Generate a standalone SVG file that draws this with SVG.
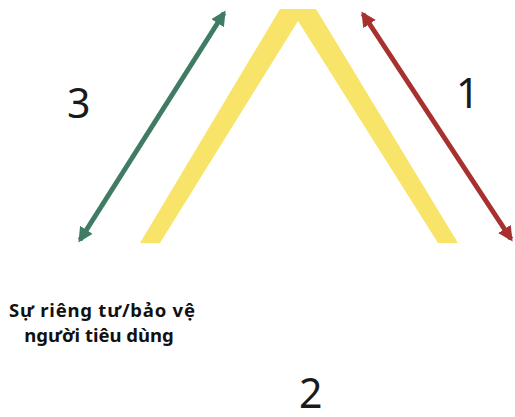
<svg xmlns="http://www.w3.org/2000/svg" width="515" height="417" viewBox="0 0 515 417">
<style>
.num{font-family:"Noto Sans","Open Sans",sans-serif;font-size:41px;fill:#1a1a1a}
.lbl{font-family:"Noto Sans","Open Sans",sans-serif;font-size:18.5px;font-weight:bold;fill:#111;text-anchor:middle}
.arr{stroke-width:5;fill:none}
</style>
<defs>
<marker id="hg" viewBox="0 0 10 10" refX="8" refY="5" markerWidth="3" markerHeight="3" orient="auto-start-reverse" markerUnits="strokeWidth"><path d="M0,0 L10,5 L0,10 z" fill="#3F7C63"/></marker>
<marker id="hr" viewBox="0 0 10 10" refX="8" refY="5" markerWidth="3" markerHeight="3" orient="auto-start-reverse" markerUnits="strokeWidth"><path d="M0,0 L10,5 L0,10 z" fill="#A7312F"/></marker>
</defs>
<g id="chevron">
<polygon points="140,243 280,9 316,9 458,243 438,243 298,21 160,243" fill="#F9E46A"/>
</g>
<g id="connectors">
<line class="arr" x1="80" y1="240" x2="224" y2="13" stroke="#3F7C63" marker-start="url(#hg)" marker-end="url(#hg)"/>
<line class="arr" x1="363" y1="14" x2="511" y2="239" stroke="#A7312F" marker-start="url(#hr)" marker-end="url(#hr)"/>
</g>
<g id="label3"><text class="num" x="67" y="118">3</text></g>
<g id="label1"><text class="num" x="456" y="108">1</text></g>
<g id="label2"><text class="num" x="299" y="408">2</text></g>
<g id="caption">
<text class="lbl" x="102" y="317" textLength="186" lengthAdjust="spacing">Sự riêng tư/bảo vệ</text>
<text class="lbl" x="99" y="342">người tiêu dùng</text>
</g>
</svg>
